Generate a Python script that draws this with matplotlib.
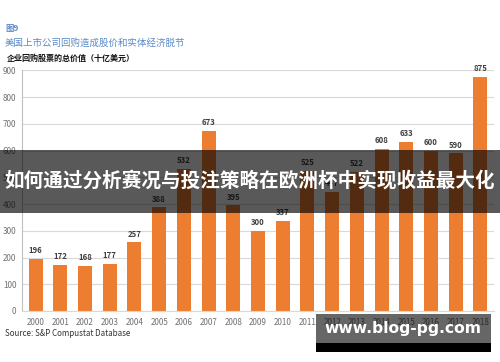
import matplotlib.pyplot as plt
from matplotlib.patches import Rectangle

plt.rcParams['font.family'] = ['Noto Sans CJK SC', 'DejaVu Sans']

# ------------------------------ Dados ------------------------------
years = [str(y) for y in range(2000, 2019)]
values = [196, 172, 168, 177, 257, 388, 532, 673, 395, 300,
          337, 525, 447, 522, 608, 633, 600, 590, 875]
yticks = list(range(0, 1000, 100))

fig_label = "图9"
subtitle = "美国上市公司回购造成股价和实体经济脱节"
ylabel_text = "企业回购股票的总价值（十亿美元）"
source = "Source: S&P Compustat Database"
banner = "如何通过分析赛况与投注策略在欧洲杯中实现收益最大化"
watermark = "www.blog-pg.com"

BAR = "#ED7D31"
W, H = 500, 362

fig = plt.figure(figsize=(W / 100, H / 100), dpi=100)
fig.patch.set_facecolor("white")

# eixos em pixels -> fracoes
left, right, top, bottom = 22, 494, 70.5, 311
ax = fig.add_axes([left / W, 1 - bottom / H, (right - left) / W, (bottom - top) / H])

x = list(range(len(years)))
ax.bar(x, values, width=0.57, color=BAR, zorder=2)
for xi, v in zip(x, values):
    ax.text(xi, v + 14, str(v), ha="center", va="bottom", fontsize=5.6,
            color="#404040", fontweight="bold")

ax.set_xlim(-0.55, 18.55)
ax.set_ylim(0, 900)
ax.set_yticks(yticks)
ax.set_xticks(x)
ax.set_xticklabels(years)
ax.tick_params(axis="both", length=0, labelsize=5.8, colors="#707070")
ax.tick_params(axis="y", pad=4)
ax.tick_params(axis="x", pad=5)
ax.grid(axis="y", color="#d9d9d9", lw=0.8, zorder=0)
for s in ["top", "right"]:
    ax.spines[s].set_visible(False)
ax.spines["left"].set_color("#bfbfbf")
ax.spines["bottom"].set_color("#d9d9d9")

# textos de cabecalho
fig.text(5 / W, 1 - 28 / H, fig_label, fontsize=6, color="#5B8AC8",
         fontweight="bold", va="center")
fig.text(5 / W, 1 - 43 / H, subtitle, fontsize=6.8, color="#5B8AC8", va="center")
fig.text(7 / W, 1 - 58 / H, ylabel_text, fontsize=5.8, color="#111111",
         fontweight="bold", va="center")
fig.text(5 / W, 1 - 334 / H, source, fontsize=5.8, color="#333333", va="center")

# faixa escura com titulo
fig.add_artist(Rectangle((0, 1 - 213 / H), 1, 63 / H, transform=fig.transFigure,
                         color="black", alpha=0.65, lw=0, zorder=10))
fig.text(0.5, 1 - 181 / H, banner, fontsize=14.1, color="white",
         fontweight="bold", ha="center", va="center", zorder=11)

# marca d'agua
fig.add_artist(Rectangle((316 / W, 1 - 343 / H), 175 / W, 29 / H, transform=fig.transFigure,
                         color="black", alpha=0.6, lw=0, zorder=10))
fig.add_artist(Rectangle((316 / W, 1 - 352 / H), 175 / W, 9 / H, transform=fig.transFigure,
                         color="black", lw=0, zorder=10))
fig.text(403 / W, 1 - 329 / H, watermark, fontsize=11.2, color="white",
         fontweight="bold", ha="center", va="center", zorder=11,
         family="DejaVu Sans")

fig.savefig("out.png", dpi=100)
